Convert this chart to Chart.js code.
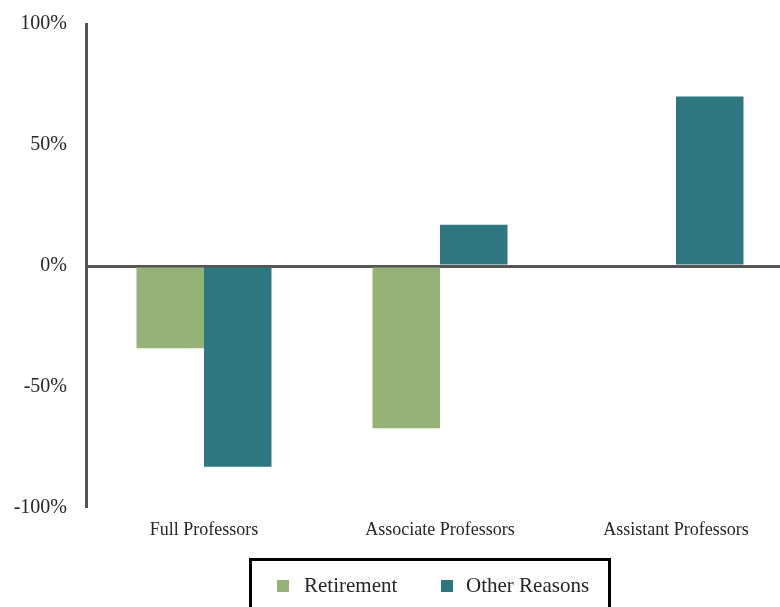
<!DOCTYPE html>
<html>
<head>
<meta charset="utf-8">
<script src="https://cdn.jsdelivr.net/npm/chart.js@4"></script>
<style>
  html, body { margin: 0; padding: 0; background: #fff; overflow: hidden; }
  #wrap { position: relative; width: 800px; height: 607px; }
  #legend {
    position: absolute; left: 249px; top: 558px; width: 356px; height: 60px;
    border: 3px solid #000; font-family: 'Liberation Serif', serif; font-size: 21px; color: #262626;
  }
  #legend .box { position: absolute; width: 12px; height: 12px; top: 19px; }
  #legend .txt { position: absolute; top: 12px; line-height: 24px; }
</style>
</head>
<body>
<div id="wrap">
  <canvas id="myChart" width="800" height="607"></canvas>
  <div id="legend"></div>
</div>
<script>
var categories = ["Full Professors", "Associate Professors", "Assistant Professors"];
var retirement = [-34, -67, 0];
var otherReasons = [-83, 17, 70];
var yTicks = [-100, -50, 0, 50, 100];

var green = '#95b377';
var teal = '#2f7780';

function buildChart() {
  var ctx = document.getElementById('myChart').getContext('2d');
  var chart = new Chart(ctx, {
    type: 'bar',
    data: {
      labels: categories,
      datasets: [{
        label: "Retirement",
        backgroundColor: green,
        data: retirement
      }, {
        label: "Other Reasons",
        backgroundColor: teal,
        data: otherReasons
      }]
    },
    options: {
      responsive: false,
      animation: false,
      layout: { padding: { top: 24, right: 6, left: 0, bottom: 0 } },
      plugins: { legend: { display: false }, tooltip: { enabled: false } },
      datasets: { bar: { barPercentage: 1, categoryPercentage: 0.572 } },
      scales: {
        x: {
          offset: true,
          grid: { display: false, drawTicks: false },
          border: { display: false },
          ticks: { color: '#262626', padding: 11, font: { family: 'Liberation Serif', size: 18 } },
          afterFit: function(scale) { scale.height = 99; scale.paddingLeft = 0; scale.paddingRight = 0; }
        },
        y: {
          min: yTicks[0],
          max: yTicks[yTicks.length - 1],
          afterBuildTicks: function(scale) {
            scale.ticks = yTicks.map(function(v) { return { value: v }; });
          },
          afterFit: function(scale) { scale.width = 86; scale.paddingTop = 0; scale.paddingBottom = 0; },
          border: { display: true, color: '#555', width: 3 },
          grid: {
            drawTicks: false,
            color: function(c) { return c.tick && c.tick.value === 0 ? '#555' : 'rgba(0,0,0,0)'; },
            lineWidth: function(c) { return c.tick && c.tick.value === 0 ? 3 : 0; }
          },
          ticks: {
            color: '#262626', padding: 19,
            font: { family: 'Liberation Serif', size: 20 },
            callback: function(v) { return v + '%'; }
          }
        }
      }
    }
  });
  return chart;
}

var chart = buildChart();

// legend box like the original
var leg = document.getElementById('legend');
var items = [["Retirement", green, 25, 52], ["Other Reasons", teal, 189, 214]];
items.forEach(function(it) {
  var b = document.createElement('span');
  b.className = 'box'; b.style.background = it[1]; b.style.left = it[2] + 'px';
  var t = document.createElement('span');
  t.className = 'txt'; t.textContent = it[0]; t.style.left = it[3] + 'px';
  leg.appendChild(b); leg.appendChild(t);
});
</script>
</body>
</html>
